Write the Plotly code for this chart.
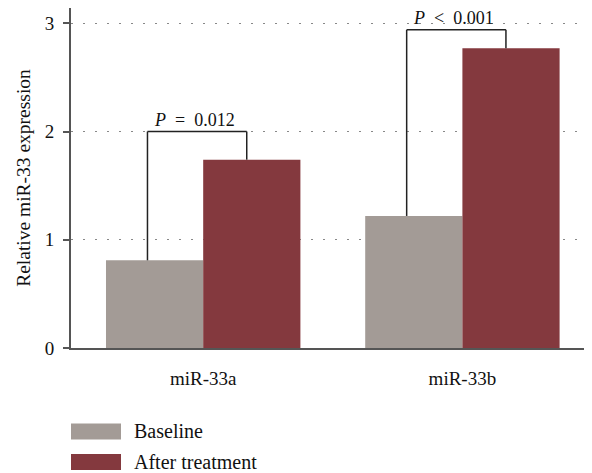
import plotly.graph_objects as go

categories = ["miR-33a", "miR-33b"]
series_names = ["Baseline", "After treatment"]
baseline = [0.81, 1.22]
after_treatment = [1.74, 2.77]
p_labels = ["<i>P</i>\u2002=\u20020.012", "<i>P</i>\u2002<\u20020.001"]
bracket_tops = [2.0, 2.94]
y_ticks = [0, 1, 2, 3]

colors = ["#A39B96", "#84393E"]
FONT = "Liberation Serif"
TXT = "#111111"
# page body has an 8px margin; figure sized to fit the window
OFF = 8
W, H = 592 - OFF, 473 - OFF
L, R, T, B = 71 - OFF, 0, 0, 473 - 348

x_pos = list(range(len(categories)))

fig = go.Figure()
fig.add_trace(go.Bar(x=x_pos, y=baseline, name=series_names[0],
                     marker=dict(color=colors[0], line=dict(width=0))))
fig.add_trace(go.Bar(x=x_pos, y=after_treatment, name=series_names[1],
                     marker=dict(color=colors[1], line=dict(width=0))))

shapes = []
annotations = []
for i, (b0, a0, top, lab) in enumerate(zip(baseline, after_treatment, bracket_tops, p_labels)):
    xl = i - 0.215
    xr = i + 0.168
    line = dict(color="#222222", width=1.5)
    shapes.append(dict(type="line", xref="x", yref="y", x0=xl, x1=xl, y0=b0, y1=top, line=line))
    shapes.append(dict(type="line", xref="x", yref="y", x0=xl, x1=xr, y0=top, y1=top, line=line))
    shapes.append(dict(type="line", xref="x", yref="y", x0=xr, x1=xr, y0=a0, y1=top, line=line))
    annotations.append(dict(x=(xl + xr) / 2 - 0.01, y=top, xref="x", yref="y", text=lab,
                            showarrow=False, yanchor="bottom", xanchor="center",
                            yshift=0, font=dict(family=FONT, size=18, color=TXT)))

# manual legend (wide swatches as in the reference), positions in window pixels
pw = W - L - R
ph = H - T - B
def px_x(p):
    return (p - OFF - L) / pw
def px_y(p):
    return (H - B - (p - OFF)) / ph

legend_rows = [(423.5, 439.5), (454, 470)]
for name, col, (ya, yb) in zip(series_names, colors, legend_rows):
    shapes.append(dict(type="rect", xref="paper", yref="paper",
                       x0=px_x(71), x1=px_x(121), y0=px_y(yb), y1=px_y(ya),
                       fillcolor=col, line=dict(width=0)))
    annotations.append(dict(x=px_x(132), y=px_y((ya + yb) / 2 - 0.5), xref="paper", yref="paper",
                            text=name, showarrow=False, xanchor="left", yanchor="middle",
                            font=dict(family=FONT, size=20, color=TXT)))

unit_px = (348 - 23.3) / 3
y_top = (H - B - T) / unit_px

fig.update_layout(
    width=W, height=H,
    margin=dict(l=L, r=R, t=T, b=B, autoexpand=False),
    paper_bgcolor="white", plot_bgcolor="white",
    barmode="group", bargap=0.25, bargroupgap=0,
    showlegend=False,
    font=dict(family=FONT, size=18, color=TXT),
    shapes=shapes, annotations=annotations,
    xaxis=dict(range=[-0.51, 1.5], tickvals=x_pos, ticktext=categories,
               showgrid=False, zeroline=False, showline=True,
               linecolor="#555555", linewidth=2, ticks="",
               ticklabelstandoff=12, automargin=False,
               tickfont=dict(family=FONT, size=19, color=TXT)),
    yaxis=dict(range=[0, y_top], tickvals=y_ticks,
               showgrid=True, gridcolor="#888888", gridwidth=1, griddash="2px,10px",
               zeroline=False, showline=True, linecolor="#555555", linewidth=2,
               ticks="outside", ticklen=6, tickcolor="#555555", tickwidth=2,
               ticklabelstandoff=5, automargin=False,
               tickfont=dict(family=FONT, size=19, color=TXT),
               title=dict(text="Relative miR-33 expression", standoff=9,
                          font=dict(family=FONT, size=19.5, color=TXT))),
)

fig.write_html("out.html")
